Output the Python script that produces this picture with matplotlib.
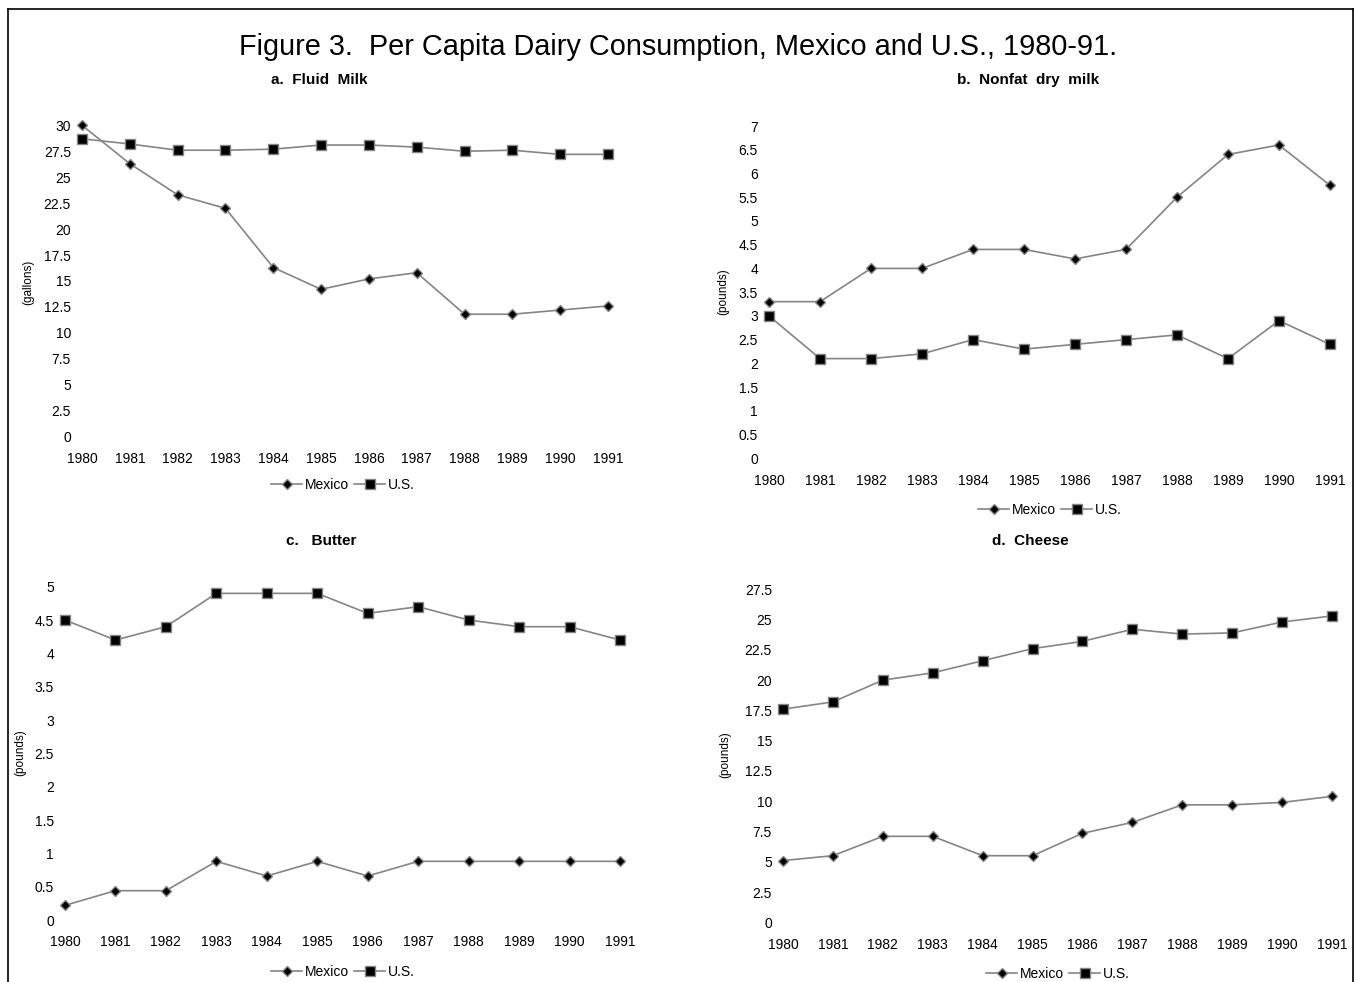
import matplotlib.pyplot as plt
from matplotlib.lines import Line2D

W, H = 1354, 982

years = [1980, 1981, 1982, 1983, 1984, 1985, 1986, 1987, 1988, 1989, 1990, 1991]

# a. fluid milk (gallons)
milk_mex = [30.0, 26.3, 23.3, 22.0, 16.3, 14.2, 15.2, 15.8, 11.8, 11.8, 12.2, 12.6]
milk_us = [28.7, 28.2, 27.6, 27.6, 27.7, 28.1, 28.1, 27.9, 27.5, 27.6, 27.2, 27.2]
# b. nonfat dry milk (pounds)
ndm_mex = [3.3, 3.3, 4.0, 4.0, 4.4, 4.4, 4.2, 4.4, 5.5, 6.4, 6.6, 5.75]
ndm_us = [3.0, 2.1, 2.1, 2.2, 2.5, 2.3, 2.4, 2.5, 2.6, 2.1, 2.9, 2.4]
# c. butter (pounds)
butter_mex = [0.22, 0.44, 0.44, 0.88, 0.66, 0.88, 0.66, 0.88, 0.88, 0.88, 0.88, 0.88]
butter_us = [4.5, 4.2, 4.4, 4.9, 4.9, 4.9, 4.6, 4.7, 4.5, 4.4, 4.4, 4.2]
# d. cheese (pounds)
cheese_mex = [5.1, 5.5, 7.1, 7.1, 5.5, 5.5, 7.35, 8.25, 9.7, 9.7, 9.9, 10.4]
cheese_us = [17.6, 18.2, 20.0, 20.6, 21.6, 22.6, 23.2, 24.2, 23.8, 23.9, 24.8, 25.3]

SANS = ['Liberation Sans', 'DejaVu Sans']
GREY = '#858585'

fig = plt.figure(figsize=(W / 100, H / 100), dpi=100)
fig.patch.set_facecolor('white')

# frame around the page (left, top, right)
for xs, ys in [((8, 8), (9, H)), ((8, W - 1), (9, 9)), ((W - 1, W - 1), (9, H))]:
    fig.add_artist(Line2D([x / W for x in xs], [1 - y / H for y in ys],
                          color='black', lw=1.2, transform=fig.transFigure))

fig.text(678 / W, 1 - 47 / H,
         'Figure 3.  Per Capita Dairy Consumption, Mexico and U.S., 1980-91.',
         ha='center', va='center', fontsize=20.8, family=SANS)

panels = [
    # title, ylabel, mex, us, ymax, step, x0px, x1px, y0px, ytop_px, title_xy, ylab_xy, leg_xy
    ('a.  Fluid  Milk', '(gallons)', milk_mex, milk_us, 30, 2.5,
     82, 608, 436.7, 125.3, (319, 80), (28, 282), (343, 485)),
    ('b.  Nonfat  dry  milk', '(pounds)', ndm_mex, ndm_us, 7, 0.5,
     769, 1330, 458.3, 126, (1028, 80), (723, 292), (1050, 510)),
    ('c.   Butter', '(pounds)', butter_mex, butter_us, 5, 0.5,
     65, 620, 920, 586.7, (321, 541), (20, 753), (343, 972)),
    ('d.  Cheese', '(pounds)', cheese_mex, cheese_us, 27.5, 2.5,
     783, 1332, 922.3, 589.3, (1030, 541), (725, 755), (1058, 974)),
]

for (title, ylab, mex, us, ymax, step, x0, x1, y0, y1,
     txy, lxy, gxy) in panels:
    ax = fig.add_axes([x0 / W, 1 - y0 / H, (x1 - x0) / W, (y0 - y1) / H])
    ax.plot(years, mex, color=GREY, lw=1.2, marker='D', ms=5.5,
            mfc='black', mec=GREY, mew=1.0, clip_on=False, label='Mexico')
    ax.plot(years, us, color=GREY, lw=1.2, marker='s', ms=6.5,
            mfc='black', mec=GREY, mew=1.0, clip_on=False, label='U.S.')
    ax.set_xlim(1980, 1991)
    ax.set_ylim(0, ymax)
    yt = [i * step for i in range(int(round(ymax / step)) + 1)]
    ax.set_yticks(yt)
    ax.set_yticklabels([f'{v:g}' for v in yt], family=SANS, fontsize=10)
    ax.set_xticks(years)
    ax.set_xticklabels([str(y) for y in years], family=SANS, fontsize=10)
    ax.tick_params(axis='y', length=0, pad=8)
    ax.tick_params(axis='x', length=0, pad=11)
    for s in ax.spines.values():
        s.set_visible(False)
    ax.set_facecolor('none')

    fig.text(txy[0] / W, 1 - txy[1] / H, title, ha='center', va='center',
             fontsize=11, fontweight='bold', family=SANS)
    fig.text(lxy[0] / W, 1 - lxy[1] / H, ylab, ha='center', va='center',
             rotation=90, fontsize=8.5, family=SANS)
    handles, labels = ax.get_legend_handles_labels()
    fig.legend(handles, labels, loc='center', bbox_to_anchor=(gxy[0] / W, 1 - gxy[1] / H),
               ncol=2, frameon=False, handlelength=2.2, handletextpad=0.2,
               columnspacing=0.4, prop={'family': SANS, 'size': 10})

fig.savefig('out.png', dpi=100, facecolor='white')
